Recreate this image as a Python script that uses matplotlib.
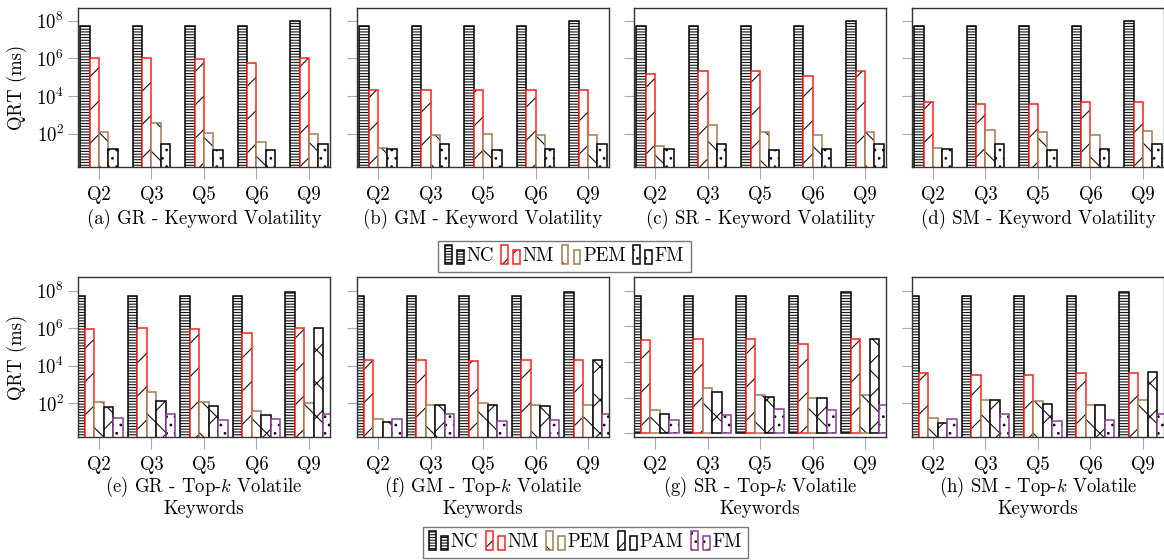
import numpy as np
import matplotlib.pyplot as plt
from matplotlib.patches import Rectangle
from matplotlib.legend_handler import HandlerBase
from matplotlib.ticker import FixedLocator, NullLocator

plt.rcParams['font.family'] = 'serif'
plt.rcParams['font.serif'] = ['cmr10']
plt.rcParams['mathtext.fontset'] = 'cm'
plt.rcParams['axes.formatter.use_mathtext'] = True
plt.rcParams['axes.unicode_minus'] = False
plt.rcParams['hatch.linewidth'] = 0.8

queries = ['Q2', 'Q3', 'Q5', 'Q6', 'Q9']

# QRT (ms) per query, keyword volatility runs
gr_volatility = {'NC': [5e7, 5e7, 5e7, 5e7, 9e7],
                 'NM': [1e6, 1e6, 9.5e5, 5.3e5, 1e6],
                 'PEM': [123, 370, 110, 36, 100],
                 'FM': [16, 28, 13, 14, 28]}
gm_volatility = {'NC': [5e7, 5e7, 5e7, 5e7, 9e7],
                 'NM': [2.2e4, 2.2e4, 2.1e4, 2.2e4, 2.2e4],
                 'PEM': [17, 89, 100, 82, 82],
                 'FM': [16, 28, 13, 15, 28]}
sr_volatility = {'NC': [5e7, 5e7, 5e7, 5e7, 9e7],
                 'NM': [1.5e5, 2.0e5, 2.2e5, 1.2e5, 2.0e5],
                 'PEM': [21, 300, 130, 89, 130],
                 'FM': [16, 28, 13, 15, 28]}
sm_volatility = {'NC': [5e7, 5e7, 5e7, 5e7, 9e7],
                 'NM': [4.6e3, 3.8e3, 3.8e3, 4.6e3, 4.6e3],
                 'PEM': [17, 160, 130, 82, 145],
                 'FM': [16, 28, 13, 16, 28]}

# QRT (ms) per query, top-k volatile keywords runs
gr_topk = {'NC': [5e7, 5e7, 5e7, 5e7, 9e7],
           'NM': [9e5, 1e6, 9e5, 5.5e5, 1e6],
           'PEM': [120, 370, 110, 36, 100],
           'PAM': [59, 135, 72, 24, 1e6],
           'FM': [16, 27, 13, 15, 27]}
gm_topk = {'NC': [5e7, 5e7, 5e7, 5e7, 9e7],
           'NM': [1.9e4, 1.9e4, 1.8e4, 1.9e4, 1.9e4],
           'PEM': [14, 81, 100, 75, 75],
           'PAM': [9.3, 75, 81, 72, 1.9e4],
           'FM': [14, 25, 11.5, 12.5, 25]}
sr_topk = {'NC': [5e7, 5e7, 5e7, 5e7, 9e7],
           'NM': [1.6e5, 2.0e5, 2.0e5, 1.05e5, 2.0e5],
           'PEM': [19, 340, 145, 94, 130],
           'PAM': [12, 195, 107, 94, 2.0e5],
           'FM': [5.2, 11, 22, 19, 40]}
sm_topk = {'NC': [5e7, 5e7, 5e7, 5e7, 9e7],
           'NM': [4.3e3, 3.3e3, 3.3e3, 4.3e3, 4.3e3],
           'PEM': [16, 150, 123, 75, 138],
           'PAM': [8.7, 155, 91, 75, 4.6e3],
           'FM': [14, 26, 10.7, 13, 26]}

hatches = {'NC': '------', 'NM': '/', 'PEM': '\\', 'PAM': 'x', 'FM': '..'}
edges = {'NC': 'black', 'NM': '#ff2020', 'PEM': '#a47a4e', 'PAM': 'black', 'FM': 'black'}
purple = '#8a3d91'

FS = 13.5
W = 0.18


def draw_panel(ax, data, fm_edge, caption, ylim, ylabel=False, labelpad=4):
    x = np.arange(len(queries))
    names = list(data)
    n = len(names)
    for i, name in enumerate(names):
        vals = np.array(data[name], dtype=float)
        off = (i - (n - 1) / 2) * W
        edge = fm_edge if name == 'FM' else edges[name]
        # hatch layer (black lines) then coloured outline on top
        ax.bar(x + off, vals - 1, W, bottom=1, color='white', edgecolor='#111111',
               linewidth=0, hatch=hatches[name])
        ax.bar(x + off, vals - 1, W, bottom=1, fill=False, edgecolor=edge, linewidth=1.1)
    ax.set_yscale('log')
    ax.set_ylim(*ylim)
    ax.set_xlim(-0.4, 4.4)
    ax.yaxis.set_major_locator(FixedLocator([1, 1e2, 1e4, 1e6, 1e8]))
    ax.yaxis.set_minor_locator(NullLocator())
    ax.set_xticks(x)
    ax.set_xticklabels(queries, fontsize=FS)
    ax.tick_params(axis='x', direction='out', length=8.5, color='#aaaaaa', pad=5)
    ax.tick_params(axis='y', direction='out', length=7, color='#aaaaaa',
                   labelsize=FS, labelleft=ylabel, pad=3)
    for sp in ax.spines.values():
        sp.set_color('#333333')
        sp.set_linewidth(1.0)
    ax.set_xlabel(caption, fontsize=FS, labelpad=labelpad, linespacing=1.05)
    if ylabel:
        ax.set_ylabel('QRT (ms)', fontsize=FS)
        ax.yaxis.set_label_coords(-0.202, 0.5)


class TwoBars(HandlerBase):
    def create_artists(self, legend, orig_handle, xdescent, ydescent,
                       width, height, fontsize, trans):
        out = []
        bw = width * 0.36
        for x0, hf in [(0, 1.45), (width - bw, 1.1)]:
            y0 = -ydescent - height * 0.2
            r1 = Rectangle((x0 - xdescent, y0), bw, height * hf, facecolor='white',
                           edgecolor='#111111', linewidth=0, hatch=orig_handle.get_hatch(),
                           transform=trans)
            r2 = Rectangle((x0 - xdescent, y0), bw, height * hf, fill=False,
                           edgecolor=orig_handle.get_edgecolor(), linewidth=1.1,
                           transform=trans)
            out += [r1, r2]
        return out


fig = plt.figure(figsize=(11.64, 5.6), dpi=100)

lefts = [0.0670, 0.3067, 0.5447, 0.7835]
width = 0.2165
top_row = [(gr_volatility, '(a) GR - Keyword Volatility'),
           (gm_volatility, '(b) GM - Keyword Volatility'),
           (sr_volatility, '(c) SR - Keyword Volatility'),
           (sm_volatility, '(d) SM - Keyword Volatility')]
bottom_row = [(gr_topk, '(e) GR - Top-$k$ Volatile\nKeywords'),
              (gm_topk, '(f) GM - Top-$k$ Volatile\nKeywords'),
              (sr_topk, '(g) SR - Top-$k$ Volatile\nKeywords'),
              (sm_topk, '(h) SM - Top-$k$ Volatile\nKeywords')]

for j, (data, cap) in enumerate(top_row):
    ax = fig.add_axes([lefts[j], 0.7018, width, 0.2839])
    draw_panel(ax, data, 'black', cap, (10 ** 0.23, 10 ** 8.67), ylabel=(j == 0))

for j, (data, cap) in enumerate(bottom_row):
    ax = fig.add_axes([lefts[j], 0.2196, width, 0.2857])
    ylim = (10 ** -0.22, 10 ** 8.77) if j == 2 else (10 ** 0.19, 10 ** 8.73)
    draw_panel(ax, data, purple, cap, ylim, ylabel=(j == 0), labelpad=1)

# legends
top_names = ['NC', 'NM', 'PEM', 'FM']
top_handles = [Rectangle((0, 0), 1, 1, edgecolor=edges[n], hatch=hatches[n]) for n in top_names]
bot_names = ['NC', 'NM', 'PEM', 'PAM', 'FM']
bot_handles = [Rectangle((0, 0), 1, 1, edgecolor=purple if n == 'FM' else edges[n],
                         hatch=hatches[n]) for n in bot_names]

leg_kw = dict(ncol=5, fontsize=FS, frameon=True, fancybox=False, edgecolor='#555555',
              handlelength=1.0, handletextpad=0.15, columnspacing=0.4, borderpad=0.35,
              borderaxespad=0, handler_map={Rectangle: TwoBars()})
leg1 = fig.legend(top_handles, top_names, loc='center', bbox_to_anchor=(0.485, 0.542), **leg_kw)
leg1.get_frame().set_linewidth(1.0)
leg2 = fig.legend(bot_handles, bot_names, loc='upper center', bbox_to_anchor=(0.503, 0.059), **leg_kw)
leg2.get_frame().set_linewidth(1.0)

fig.savefig('out.png', dpi=100)
